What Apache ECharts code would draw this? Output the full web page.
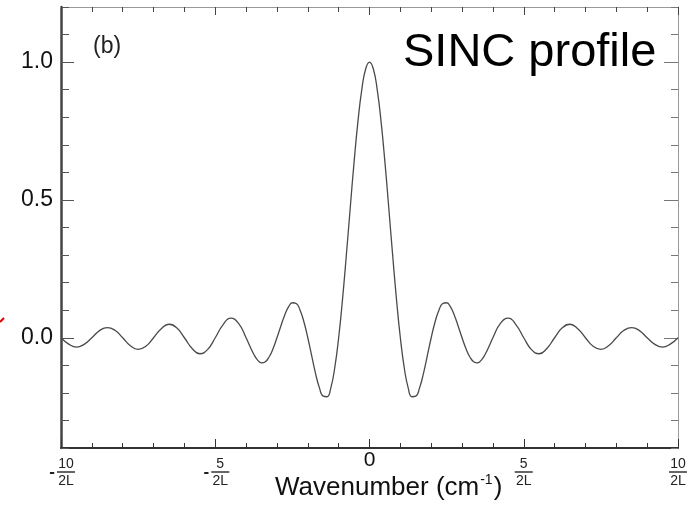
<!DOCTYPE html>
<html><head><meta charset="utf-8">
<script src="https://cdn.jsdelivr.net/npm/echarts@6/dist/echarts.min.js"></script>
<style>html,body{margin:0;padding:0;background:#fff}#c{width:694px;height:509px}</style>
</head><body><div id="c"></div>
<script>
// Wavenumber in units of 1/(2L)
const wavenumber = [
  -10, -9.75, -9.5, -9.25, -9, -8.75, -8.5, -8.25, -8, -7.75, -7.5, -7.25, -7,
  -6.75, -6.5, -6.25, -6, -5.75, -5.5, -5.25, -5, -4.75, -4.5, -4.25,
  -4, -3.875, -3.75, -3.625, -3.5, -3.375, -3.25, -3.125,
  -3, -2.875, -2.75, -2.625, -2.5, -2.375, -2.25, -2.125,
  -2, -1.875, -1.75, -1.625, -1.5, -1.375, -1.25, -1.125,
  -1, -0.875, -0.75, -0.625, -0.5, -0.375, -0.25, -0.125,
  0, 0.125, 0.25, 0.375, 0.5, 0.625, 0.75, 0.875,
  1, 1.125, 1.25, 1.375, 1.5, 1.625, 1.75, 1.875,
  2, 2.125, 2.25, 2.375, 2.5, 2.625, 2.75, 2.875,
  3, 3.125, 3.25, 3.375, 3.5, 3.625, 3.75, 3.875, 4,
  4.25, 4.5, 4.75, 5, 5.25, 5.5, 5.75, 6, 6.25, 6.5, 6.75, 7,
  7.25, 7.5, 7.75, 8, 8.25, 8.5, 8.75, 9, 9.25, 9.5, 9.75, 10
];
const intensity = [
  0, -0.023, -0.034, -0.024, 0, 0.026, 0.037, 0.027, 0, -0.029, -0.042, -0.031, 0,
  0.033, 0.049, 0.036, 0, -0.039, -0.058, -0.043, 0, 0.047, 0.071, 0.053,
  0, -0.031, -0.060, -0.081, -0.091, -0.087, -0.069, -0.039,
  0, 0.042, 0.082, 0.112, 0.127, 0.124, 0.100, 0.057,
  0, -0.065, -0.129, -0.181, -0.212, -0.214, -0.180, -0.108,
  0, 0.139, 0.300, 0.471, 0.637, 0.784, 0.900, 0.975,
  1.000, 0.975, 0.900, 0.784, 0.637, 0.471, 0.300, 0.139,
  0, -0.108, -0.180, -0.214, -0.212, -0.181, -0.129, -0.065,
  0, 0.057, 0.100, 0.124, 0.127, 0.112, 0.082, 0.042,
  0, -0.039, -0.069, -0.087, -0.091, -0.081, -0.060, -0.031, 0,
  0.053, 0.071, 0.047, 0, -0.043, -0.058, -0.039, 0, 0.036, 0.049, 0.033, 0,
  -0.031, -0.042, -0.029, 0, 0.027, 0.037, 0.026, 0, -0.024, -0.034, -0.023, 0
];
const xMajorTicks = [-10, -5, 0, 5, 10];
const xTickLabels = ['-10/2L', '-5/2L', '0', '5/2L', '10/2L'];
const yMajorTicks = [0, 0.5, 1.0];
const yTickLabels = ['0.0', '0.5', '1.0'];
const xAxisTitle = ['Wavenumber (cm', '-1', ')'];
const panelLabel = '(b)';
const profileLabel = 'SINC profile';

const FONT = '"Liberation Sans", Arial, sans-serif';

function xLabel(v) {
  const i = xMajorTicks.findIndex(t => Math.abs(t - v) < 1e-6);
  if (i < 0) return '';
  const s = xTickLabels[i];
  const m = /^(-?)(\d+)\/(.+)$/.exec(s);
  if (!m) return '{z|' + s + '}';
  if (m[1]) {
    return '{sp| }{n|' + m[2] + '}\n{m|-}{b| }\n{sp| }{d|' + m[3] + '}';
  }
  return '{n|' + m[2] + '}\n{b| }\n{d|' + m[3] + '}';
}
function yLabel(v) {
  const i = yMajorTicks.findIndex(t => Math.abs(t - v) < 1e-6);
  return i < 0 ? '' : yTickLabels[i];
}

const chart = echarts.init(document.getElementById('c'), null, {renderer: 'canvas'});
const xCommon = {type: 'value', min: -10, max: 10, interval: 1, splitLine: {show: false}};
const yCommon = {type: 'value', min: -0.4, max: 1.2, interval: 0.1, splitLine: {show: false}};

chart.setOption({
  animation: false,
  backgroundColor: '#fff',
  grid: {left: 61, right: 16, top: 7, bottom: 61, containLabel: false, outerBoundsMode: 'none'},
  title: [
    {text: panelLabel, left: 88, top: 30, textStyle: {fontFamily: FONT, fontSize: 23, fontWeight: 'normal', color: '#222'}},
    {text: profileLabel, left: 398, top: 25, textStyle: {fontFamily: FONT, fontSize: 47, fontWeight: 'normal', color: '#000'}},
    {text: '{a|' + xAxisTitle[0] + '}{s|' + xAxisTitle[1] + '}{a|' + xAxisTitle[2] + '}',
     left: 270, top: 468,
     textStyle: {rich: {
       a: {fontFamily: FONT, fontSize: 26, fontWeight: 'normal', color: '#111', lineHeight: 29},
       s: {fontFamily: FONT, fontSize: 14, fontWeight: 'normal', color: '#111', verticalAlign: 'top', lineHeight: 29, padding: [0, 1, 14, 1]}
     }}}
  ],
  xAxis: [
    Object.assign({}, xCommon, {
      position: 'bottom',
      axisLine: {show: true, onZero: false, lineStyle: {color: '#333', width: 2}},
      axisTick: {show: true, inside: true, length: 5, lineStyle: {color: '#333', width: 1}},
      axisLabel: {
        show: true, customValues: xMajorTicks, margin: 10, formatter: xLabel,
        rich: {
          n: {fontFamily: FONT, fontSize: 14, color: '#222', width: 20, align: 'center', lineHeight: 13},
          d: {fontFamily: FONT, fontSize: 14, color: '#222', width: 20, align: 'center', lineHeight: 17},
          b: {width: 18, height: 1.5, lineHeight: 2, backgroundColor: '#333', fontSize: 2},
          m: {fontFamily: FONT, fontSize: 17, fontWeight: 'bold', color: '#222', width: 10, align: 'center', lineHeight: 2},
          sp: {width: 10, fontSize: 2, lineHeight: 2},
          z: {fontFamily: FONT, fontSize: 21, color: '#111', lineHeight: 5}
        }
      }
    }),
    Object.assign({}, xCommon, {
      position: 'bottom',
      axisLine: {show: false, onZero: false},
      axisTick: {show: true, inside: true, length: 9, customValues: xMajorTicks, lineStyle: {color: '#333', width: 1}},
      axisLabel: {show: false}
    }),
    Object.assign({}, xCommon, {
      position: 'top',
      axisLine: {show: true, onZero: false, lineStyle: {color: '#999', width: 1}},
      axisTick: {show: true, inside: true, length: 5, lineStyle: {color: '#444', width: 1}},
      axisLabel: {show: false}
    }),
    Object.assign({}, xCommon, {
      position: 'top',
      axisLine: {show: false, onZero: false},
      axisTick: {show: true, inside: true, length: 8, customValues: xMajorTicks, lineStyle: {color: '#444', width: 1}},
      axisLabel: {show: false}
    })
  ],
  yAxis: [
    Object.assign({}, yCommon, {
      position: 'left',
      axisLine: {show: true, onZero: false, lineStyle: {color: '#444', width: 2.5}},
      axisTick: {show: true, inside: true, length: 8, lineStyle: {color: '#555', width: 1}},
      axisLabel: {show: false}
    }),
    Object.assign({}, yCommon, {
      position: 'left',
      axisLine: {show: false, onZero: false},
      axisTick: {show: true, inside: true, length: 13, customValues: yMajorTicks, lineStyle: {color: '#555', width: 1}},
      axisLabel: {show: true, customValues: yMajorTicks, formatter: yLabel, margin: 8,
        fontFamily: FONT, fontSize: 23, color: '#111'}
    }),
    Object.assign({}, yCommon, {
      position: 'right',
      axisLine: {show: true, onZero: false, lineStyle: {color: '#999', width: 1}},
      axisTick: {show: true, inside: true, length: 7, lineStyle: {color: '#777', width: 1}},
      axisLabel: {show: false}
    }),
    Object.assign({}, yCommon, {
      position: 'right',
      axisLine: {show: false, onZero: false},
      axisTick: {show: true, inside: true, length: 14, customValues: yMajorTicks, lineStyle: {color: '#777', width: 1}},
      axisLabel: {show: false}
    })
  ],
  series: [{
    type: 'line',
    xAxisIndex: 0, yAxisIndex: 0,
    data: wavenumber.map((x, i) => [x, intensity[i]]),
    showSymbol: false, symbol: 'none',
    smooth: 0.5,
    lineStyle: {color: '#4a4a4a', width: 1.3},
    z: 3
  }],
  graphic: [{
    type: 'line', shape: {x1: 0, y1: 322, x2: 4, y2: 318},
    style: {stroke: '#e00000', lineWidth: 2}
  }]
});
</script>
</body></html>
